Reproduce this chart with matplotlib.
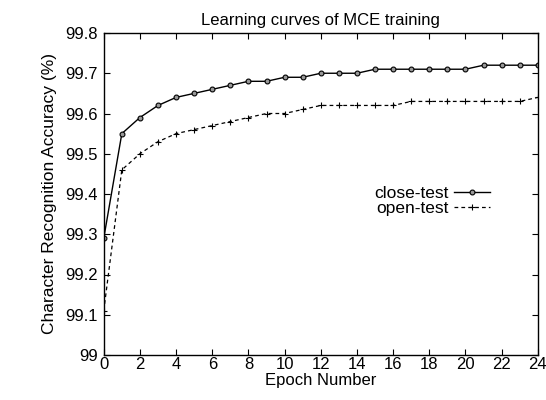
import matplotlib
matplotlib.use('Agg')
import matplotlib.pyplot as plt

epochs = list(range(25))
close_test = [99.29, 99.55, 99.59, 99.62, 99.64, 99.65, 99.66, 99.67, 99.68, 99.68,
              99.69, 99.69, 99.70, 99.70, 99.70, 99.71, 99.71, 99.71, 99.71, 99.71,
              99.71, 99.72, 99.72, 99.72, 99.72]
open_test = [99.11, 99.46, 99.50, 99.53, 99.55, 99.56, 99.57, 99.58, 99.59, 99.60,
             99.60, 99.61, 99.62, 99.62, 99.62, 99.62, 99.62, 99.63, 99.63, 99.63,
             99.63, 99.63, 99.63, 99.63, 99.64]
xticks = list(range(0, 25, 2))
yticks = [99, 99.1, 99.2, 99.3, 99.4, 99.5, 99.6, 99.7, 99.8]
ytick_labels = ['99', '99.1', '99.2', '99.3', '99.4', '99.5', '99.6', '99.7', '99.8']

plt.rcParams['font.family'] = ['Liberation Sans', 'DejaVu Sans']

fig = plt.figure(figsize=(5.46, 4), dpi=100)
ax = fig.add_axes([0.19, 0.1125, 0.795, 0.805])

ax.plot(epochs, close_test, color='black', lw=1.0, marker='o', ms=3.5,
        mfc='#999999', mec='black', mew=0.8, label='close-test')
ax.plot(epochs, open_test, color='black', lw=0.9, ls=(0, (3, 2.5)), marker='+',
        ms=5, mew=0.8, label='open-test')

ax.set_xlim(0, 24)
ax.set_ylim(99, 99.8)
ax.set_xticks(xticks)
ax.set_yticks(yticks)
ax.set_yticklabels(ytick_labels)
ax.tick_params(direction='in', top=True, right=True, labelsize=12, length=4)
ax.tick_params(axis='x', pad=1.5)
ax.tick_params(axis='y', pad=4)
for s in ax.spines.values():
    s.set_linewidth(1.0)

ax.set_title('Learning curves of MCE training', fontsize=12, pad=6)
ax.set_xlabel('Epoch Number', fontsize=12, labelpad=0.5)
ax.set_ylabel('Character Recognition Accuracy (%)', fontsize=12.5, labelpad=6)

ax.legend(loc='center right', bbox_to_anchor=(0.89, 0.478), frameon=False,
          markerfirst=False, fontsize=12.5, handlelength=2.1, handletextpad=0.3,
          labelspacing=0.0, borderpad=0, borderaxespad=0)

fig.savefig('out.png', dpi=100)
